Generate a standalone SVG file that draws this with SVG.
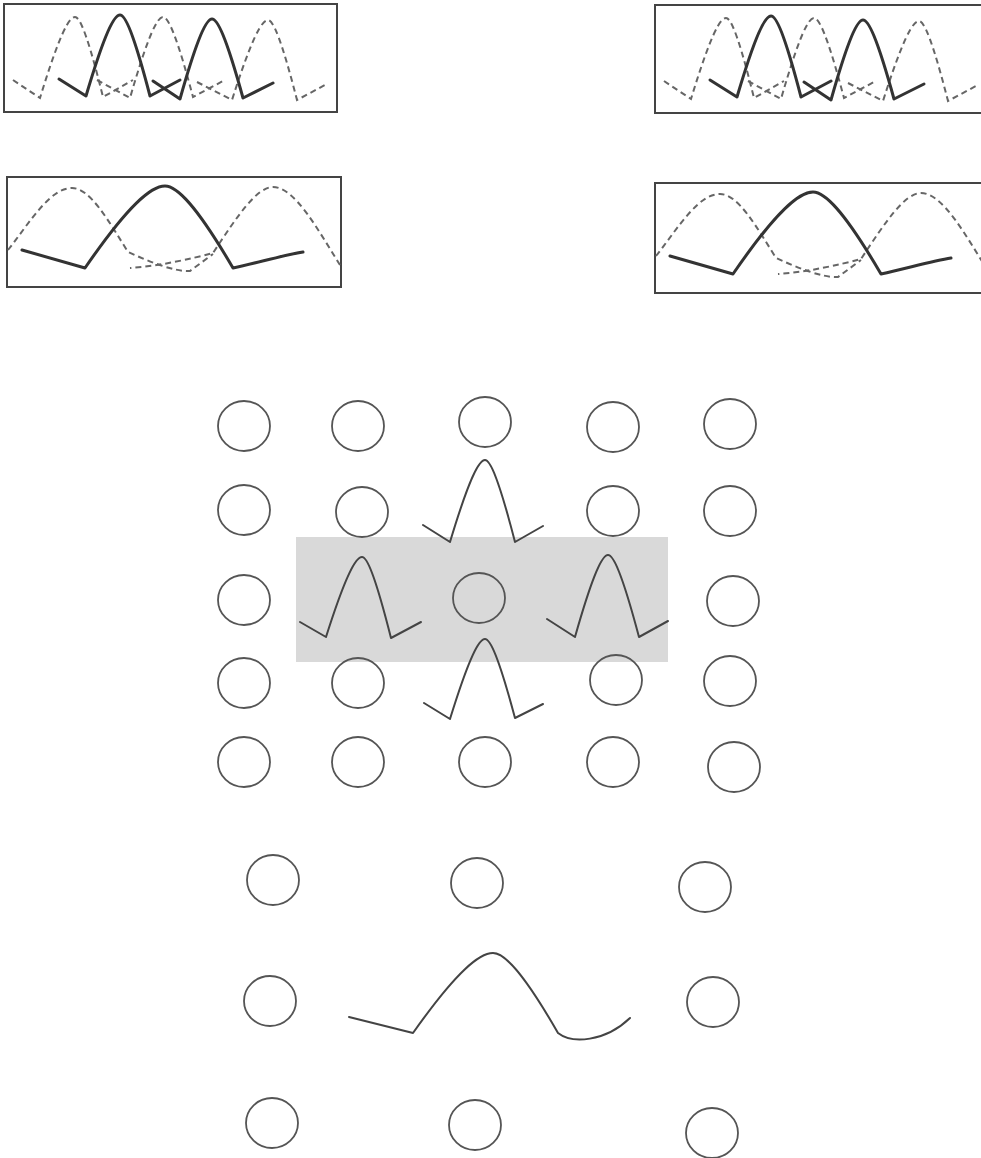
<svg xmlns="http://www.w3.org/2000/svg" xmlns:xlink="http://www.w3.org/1999/xlink" width="981" height="1158" viewBox="0 0 981 1158">
<style>
.box{fill:none;stroke:#444;stroke-width:2}
.sol{fill:none;stroke:#333;stroke-width:3;stroke-linejoin:round;stroke-linecap:round}
.dash{fill:none;stroke:#666;stroke-width:2;stroke-dasharray:6 4}
.cell{fill:none;stroke:#555;stroke-width:1.8}
.wav{fill:none;stroke:#444;stroke-width:2;stroke-linejoin:round;stroke-linecap:round}
.shade{fill:#d9d9d9}
</style>
<rect width="981" height="1158" fill="#fff"/>
<defs>
<g id="fine">
<rect class="box" x="4" y="4" width="333" height="108"/>
<path class="dash" d="M13,80 L40,98 C59.3,34.8 69,17 75,17 C79.8,17 87.6,34.6 103,97 L133,80"/>
<path class="dash" d="M97,80 L130,98 C148.2,34.8 157.4,17 163,17 C168.1,17 176.5,34.6 193,97 L223,81"/>
<path class="dash" d="M197,82 L232,100 C251.8,37.6 261.9,20 268,20 C272.9,20 281,37.6 297,100 L325,85"/>
<path class="sol" d="M59,79 L86,96 C104.7,32.8 114.2,15 120,15 C125.1,15 133.5,32.8 150,96 L180,80"/>
<path class="sol" d="M153,81 L180,99 C197.6,36.6 206.6,19 212,19 C217.3,19 226,36.4 243,98 L273,83"/>
</g>
<g id="coarse">
<rect class="box" x="7" y="177" width="334" height="110"/>
<path class="dash" d="M8,250 C30,222 50,188 72,188 C90,188 108,220 128,252 C150,262 175,272 190,271 L213,254"/>
<path class="dash" d="M340,265 C318,230 295,187 273,187 C257,187 238,215 213,253 C190,259 160,266 130,268"/>
<path class="sol" d="M22,250 L85,268 C129,204 151.4,186 165,186 C176.6,186 195.6,204 233,268 C260,262 285,255 303,252"/>
</g>
</defs>
<g id="fine-left"><use href="#fine" xlink:href="#fine"/></g>
<g id="fine-right"><use href="#fine" xlink:href="#fine" transform="translate(651,1)"/></g>
<g id="coarse-left"><use href="#coarse" xlink:href="#coarse"/></g>
<g id="coarse-right"><use href="#coarse" xlink:href="#coarse" transform="translate(648,6)"/></g>
<g id="grid">
<rect id="neighbourhood" class="shade" x="296" y="537" width="372" height="125"/>
<ellipse class="cell" cx="244" cy="426" rx="26" ry="25"/>
<ellipse class="cell" cx="358" cy="426" rx="26" ry="25"/>
<ellipse class="cell" cx="485" cy="422" rx="26" ry="25"/>
<ellipse class="cell" cx="613" cy="427" rx="26" ry="25"/>
<ellipse class="cell" cx="730" cy="424" rx="26" ry="25"/>
<ellipse class="cell" cx="244" cy="510" rx="26" ry="25"/>
<ellipse class="cell" cx="362" cy="512" rx="26" ry="25"/>
<ellipse class="cell" cx="613" cy="511" rx="26" ry="25"/>
<ellipse class="cell" cx="730" cy="511" rx="26" ry="25"/>
<ellipse class="cell" cx="244" cy="600" rx="26" ry="25"/>
<ellipse class="cell" cx="479" cy="598" rx="26" ry="25"/>
<ellipse class="cell" cx="733" cy="601" rx="26" ry="25"/>
<ellipse class="cell" cx="244" cy="683" rx="26" ry="25"/>
<ellipse class="cell" cx="358" cy="683" rx="26" ry="25"/>
<ellipse class="cell" cx="616" cy="680" rx="26" ry="25"/>
<ellipse class="cell" cx="730" cy="681" rx="26" ry="25"/>
<ellipse class="cell" cx="244" cy="762" rx="26" ry="25"/>
<ellipse class="cell" cx="358" cy="762" rx="26" ry="25"/>
<ellipse class="cell" cx="485" cy="762" rx="26" ry="25"/>
<ellipse class="cell" cx="613" cy="762" rx="26" ry="25"/>
<ellipse class="cell" cx="734" cy="767" rx="26" ry="25"/>
<path class="wav" d="M423,525 L450,542 C469.3,478 479,460 485,460 C490.1,460 498.5,478 515,542 L543,526"/>
<path class="wav" d="M424,703 L450,719 C469.3,656.6 479,639 485,639 C490.1,639 498.5,656.4 515,718 L543,704"/>
<path class="wav" d="M300,622 L326,637 C345.8,574.6 355.9,557 362,557 C366.9,557 375,574.8 391,638 L421,622"/>
<path class="wav" d="M547,619 L575,637 C593.2,573 602.4,555 608,555 C613.3,555 622,573 639,637 L668,621"/>
</g>
<g id="coarse-grid">
<ellipse class="cell" cx="273" cy="880" rx="26" ry="25"/>
<ellipse class="cell" cx="477" cy="883" rx="26" ry="25"/>
<ellipse class="cell" cx="705" cy="887" rx="26" ry="25"/>
<ellipse class="cell" cx="270" cy="1001" rx="26" ry="25"/>
<ellipse class="cell" cx="713" cy="1002" rx="26" ry="25"/>
<ellipse class="cell" cx="272" cy="1123" rx="26" ry="25"/>
<ellipse class="cell" cx="475" cy="1125" rx="26" ry="25"/>
<ellipse class="cell" cx="712" cy="1133" rx="26" ry="25"/>
<path class="wav" d="M349,1017 L413,1033 C457,970.6 479.4,953 493,953 C504,953 522.2,970.6 558,1033 C572,1044 605,1042 630,1018"/>
</g>
</svg>
